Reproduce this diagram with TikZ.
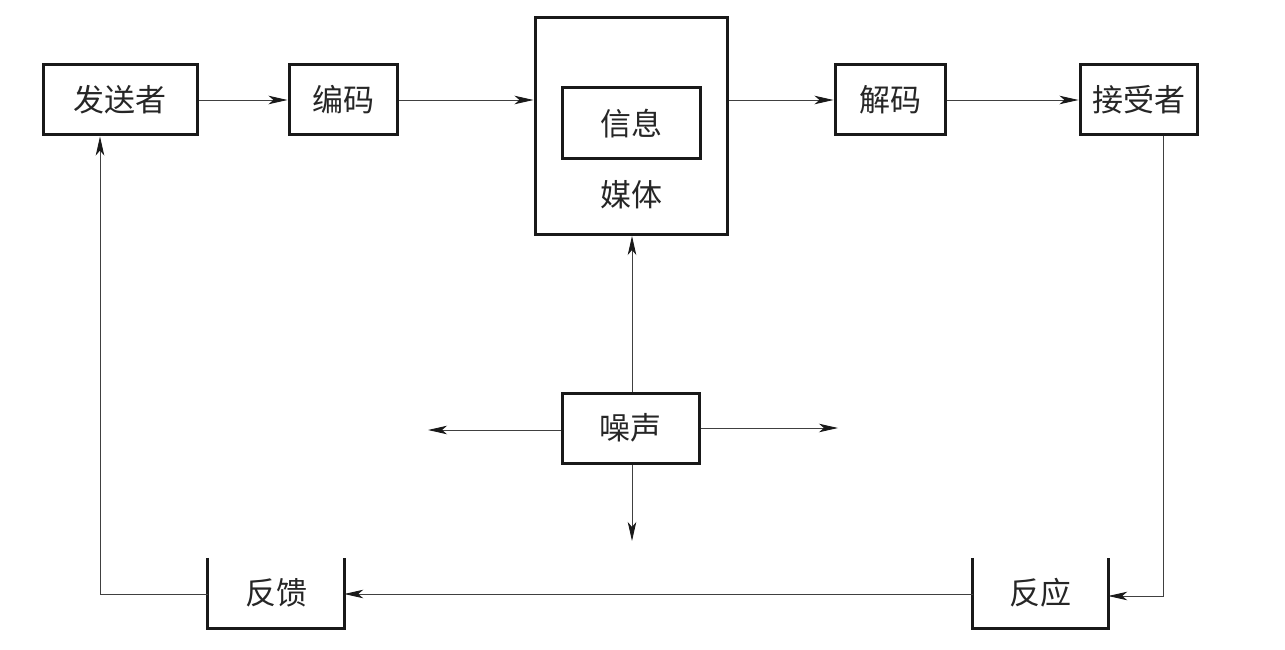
\documentclass[tikz,border=0pt]{standalone}
\usepackage{fontspec}
\newfontfamily\cjk{Noto Sans CJK SC}
\usetikzlibrary{arrows.meta}
\tikzset{
  box/.style={draw=black!90, line width=3pt, minimum width=#1, minimum height=70pt, inner sep=0pt, font=\cjk\fontsize{31}{31}\selectfont, text=black!85},
  box/.default=110pt,
  openbox/.style={minimum width=136pt, minimum height=70pt, inner sep=0pt, font=\cjk\fontsize{31}{31}\selectfont, text=black!85},
  ubox/.style={draw=black!90, line width=3pt, line join=miter},
  arr/.style={draw=black!75, line width=0.9pt, -{Stealth[length=19pt,width=8.5pt,inset=5pt,color=black!90]}},
  lbl/.style={inner sep=0pt, font=\cjk\fontsize{31}{31}\selectfont, text=black!85}
}
\begin{document}
\begin{tikzpicture}[x=1pt,y=-1pt]
\useasboundingbox (0,0) rectangle (1285,650);
% top row
\node[box=154pt] (send) at (120,100) {发送者};
\node[box=108pt] (enc) at (343,100) {编码};
\node[box=192pt, minimum height=217pt] (media) at (631,126) {};
\node[box=138pt, minimum height=71pt] (info) at (631,123.5) {信息};
\node[lbl] (mt) at (631,195) {媒体};
\node[box=110pt] (dec) at (890,100) {解码};
\node[box=117pt] (recv) at (1138.5,100) {接受者};
% noise
\node[box=137pt] (noise) at (630.5,428) {噪声};
% bottom
\node[openbox] (fb) at (276,593) {反馈};
\node[openbox, minimum width=135pt] (resp) at (1040.5,593) {反应};
\draw[ubox] (fb.north west) -- (fb.south west) -- (fb.south east) -- (fb.north east);
\draw[ubox] (resp.north west) -- (resp.south west) -- (resp.south east) -- (resp.north east);
% coordinates
\coordinate (c1) at (1163,596);
\coordinate (c2) at (100,594);
\coordinate (nl) at (428,430);
\coordinate (nr) at (838,428);
\coordinate (nb) at (632,541);
% connectors
\draw[arr] (send) -- (enc);
\draw[arr] (enc) -- (media.west |- enc);
\draw[arr] (media.east |- dec) -- (dec);
\draw[arr] (dec) -- (recv);
\draw[arr] (c1 |- recv.south) -- (c1) -- (c1 -| resp.east);
\draw[arr] (resp.west |- c2) -- (fb.east |- c2);
\draw[arr] (fb.west |- c2) -- (c2) -- (c2 |- send.south);
\draw[arr] (noise.north -| nb) -- (media.south -| nb);
\draw[arr] (noise.west |- nl) -- (nl);
\draw[arr] (noise.east |- nr) -- (nr);
\draw[arr] (noise.south -| nb) -- (nb);
\end{tikzpicture}
\end{document}
